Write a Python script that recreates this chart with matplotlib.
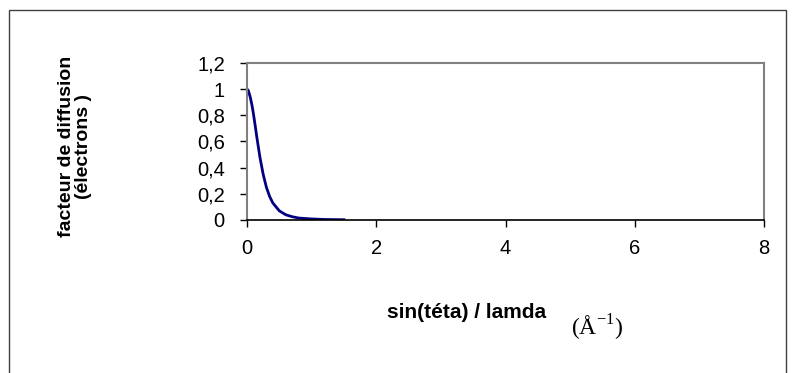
import matplotlib.pyplot as plt
from matplotlib.patches import Rectangle

# Scattering factor
s_values = [0.0, 0.02, 0.05, 0.08, 0.1, 0.13, 0.15, 0.2, 0.25, 0.3, 0.35, 0.4,
            0.5, 0.6, 0.7, 0.8, 1.0, 1.2, 1.5]
f_values = [1.0, 0.99, 0.94, 0.87, 0.81, 0.71, 0.64, 0.48, 0.35, 0.25, 0.18, 0.13,
            0.07, 0.04, 0.025, 0.015, 0.008, 0.004, 0.002]
x_ticks = [0, 2, 4, 6, 8]
y_ticks = [0, 0.2, 0.4, 0.6, 0.8, 1.0, 1.2]
y_tick_labels = ["0", "0,2", "0,4", "0,6", "0,8", "1", "1,2"]

sans = ["Liberation Sans", "DejaVu Sans"]

fig = plt.figure(figsize=(7.95, 3.73), dpi=100)
ax = fig.add_axes([247 / 795, 1 - 220 / 373, 517 / 795, 157 / 373])

ax.plot(s_values, f_values, color="#000080", linewidth=2)

ax.set_xlim(0, 8)
ax.set_ylim(0, 1.2)
ax.set_xticks(x_ticks)
ax.set_xticklabels([str(t) for t in x_ticks])
ax.set_yticks(y_ticks)
ax.set_yticklabels(y_tick_labels)
ax.tick_params(direction="out", length=5, width=1, colors="black", labelsize=14.5)
ax.tick_params(axis="x", pad=9)
ax.tick_params(axis="y", pad=11)
for lbl in ax.get_xticklabels() + ax.get_yticklabels():
    lbl.set_family(sans)

for side in ["top", "right", "left"]:
    ax.spines[side].set_color("#808080")
    ax.spines[side].set_linewidth(1.5)
ax.spines["bottom"].set_color("black")
ax.spines["bottom"].set_linewidth(1.2)

# Axis titles
fig.text(75 / 795, 1 - 146 / 373, "facteur de diffusion\n(électrons )", rotation=90,
         ha="center", va="center", fontsize=14, fontweight="bold",
         family=sans, linespacing=0.95)
fig.text(467 / 795, 1 - 312 / 373, "sin(téta) / lamda", ha="center", va="center",
         fontsize=15, fontweight="bold", family=sans)
fig.text(597 / 795, 1 - 328 / 373, "(Å$^{\\mathregular{-1}}$)", ha="center", va="center",
         fontsize=17, family=["Liberation Serif", "DejaVu Serif"])

# Outer chart frame
fig.patches.append(Rectangle((9 / 795, -0.05), 777 / 795, 1 - 10 / 373 + 0.05,
                             transform=fig.transFigure, fill=False,
                             edgecolor="#404040", linewidth=1))

fig.savefig("out.png", dpi=100)
